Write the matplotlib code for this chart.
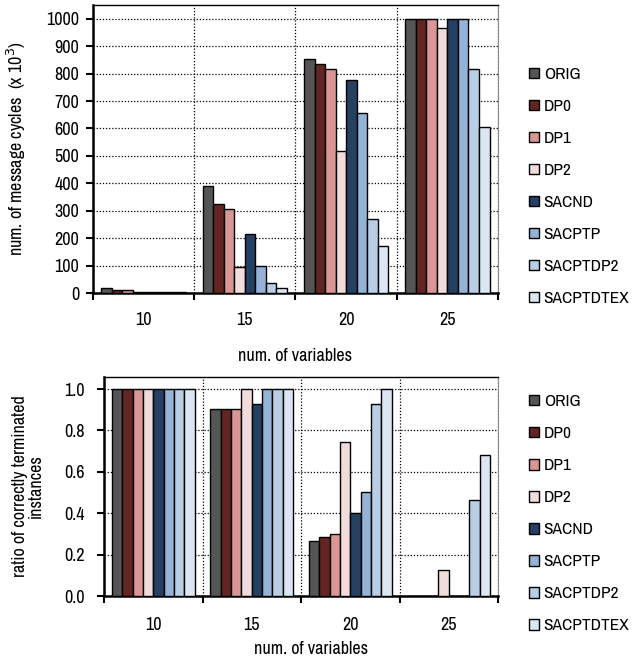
import numpy as np
import matplotlib
matplotlib.use("Agg")
import matplotlib.pyplot as plt
from matplotlib.patches import Patch

plt.rcParams['font.family'] = ['Archivo Narrow', 'Roboto Condensed', 'DejaVu Sans']

variables = ["10", "15", "20", "25"]
methods = ["ORIG", "DP0", "DP1", "DP2", "SACND", "SACPTP", "SACPTDP2", "SACPTDTEX"]
colors = ["#555555", "#632523", "#d99694", "#f2dcdb",
          "#254061", "#95b3d7", "#b9cde5", "#dce6f2"]

# message cycles (x 10^3), one list per method, ordered by num. of variables
cycles = {
    "ORIG":      [17, 389, 855, 1000],
    "DP0":       [10, 326, 835, 1000],
    "DP1":       [10, 305, 818, 1000],
    "DP2":       [5, 94, 518, 967],
    "SACND":     [5, 217, 777, 1000],
    "SACPTP":    [5, 99, 656, 1000],
    "SACPTDP2":  [5, 38, 271, 818],
    "SACPTDTEX": [5, 18, 172, 606],
}

# ratio of correctly terminated instances
ratio = {
    "ORIG":      [1.0, 0.905, 0.265, 0.0],
    "DP0":       [1.0, 0.905, 0.285, 0.0],
    "DP1":       [1.0, 0.905, 0.30, 0.0],
    "DP2":       [1.0, 1.0, 0.743, 0.124],
    "SACND":     [1.0, 0.926, 0.40, 0.0],
    "SACPTP":    [1.0, 1.0, 0.503, 0.0],
    "SACPTDP2":  [1.0, 1.0, 0.926, 0.463],
    "SACPTDTEX": [1.0, 1.0, 1.0, 0.68],
}

FS = 13


def draw_panel(ax, data, ylim, yticks, yfmt, bar_w):
    x = np.arange(len(variables))
    for i, m in enumerate(methods):
        ax.bar(x + (i - 3.5) * bar_w, data[m], width=bar_w, color=colors[i],
               edgecolor="black", linewidth=1.0, zorder=3)
    ax.set_xlim(-0.5, len(variables) - 0.5)
    ax.set_ylim(*ylim)
    ax.set_yticks(yticks)
    ax.set_yticklabels([yfmt.format(v) for v in yticks], fontsize=FS)

    # group boundaries carry the ticks and vertical grid, labels sit at centres
    ax.set_xticks(np.arange(len(variables) + 1) - 0.5)
    ax.set_xticklabels([])
    ax.set_xticks(x, minor=True)
    ax.set_xticklabels(variables, minor=True, fontsize=FS)
    ax.tick_params(axis="x", which="major", direction="out", length=5, width=1.5)
    ax.tick_params(axis="x", which="minor", length=0)
    ax.tick_params(axis="y", direction="out", length=5, width=1.5)

    ax.grid(True, which="major", color="black", linestyle=(0, (1, 1.5)), linewidth=0.9)
    ax.set_axisbelow(True)

    for side in ("left", "bottom"):
        ax.spines[side].set_linewidth(1.8)
    ax.spines["top"].set_linewidth(1.0)
    ax.spines["right"].set_linewidth(0.8)
    ax.spines["right"].set_color("#888888")


fig = plt.figure(figsize=(6.32, 6.64), dpi=100)

ax1 = fig.add_axes([0.147, 0.5587, 0.641, 0.4337])
draw_panel(ax1, cycles, (0, 1050), list(range(0, 1001, 100)), "{:d}", 0.104)
ax1.tick_params(axis="x", which="minor", pad=14)
ax1.tick_params(axis="y", pad=5)
ax1.set_xlabel("num. of variables", fontsize=FS)
ax1.xaxis.set_label_coords(0.5, -0.19)
ax1.set_ylabel("num. of message cycles  (x 10$^3$)", fontsize=FS)
ax1.yaxis.set_label_coords(-0.16, 0.5)

ax2 = fig.add_axes([0.1646, 0.1024, 0.6234, 0.3298])
draw_panel(ax2, ratio, (0, 1.058), [0.0, 0.2, 0.4, 0.6, 0.8, 1.0], "{:.1f}", 0.105)
ax2.tick_params(axis="x", which="minor", pad=15)
ax2.tick_params(axis="y", pad=9)
ax2.set_xlabel("num. of variables", fontsize=FS)
ax2.xaxis.set_label_coords(0.525, -0.205)
ax2.set_ylabel("ratio of correctly terminated\ninstances", fontsize=FS,
               linespacing=1.0, multialignment="center")
ax2.yaxis.set_label_coords(-0.152, 0.5)

handles = [Patch(facecolor=c, edgecolor="black", linewidth=1.0) for c in colors]
for yc in (0.719, 0.226):
    fig.legend(handles, methods, loc="center left", bbox_to_anchor=(0.826, yc),
               frameon=False, fontsize=12.5, handlelength=0.55, handleheight=0.55,
               handletextpad=0.3, labelspacing=0.98, borderaxespad=0)

fig.savefig("out.png", dpi=100)
